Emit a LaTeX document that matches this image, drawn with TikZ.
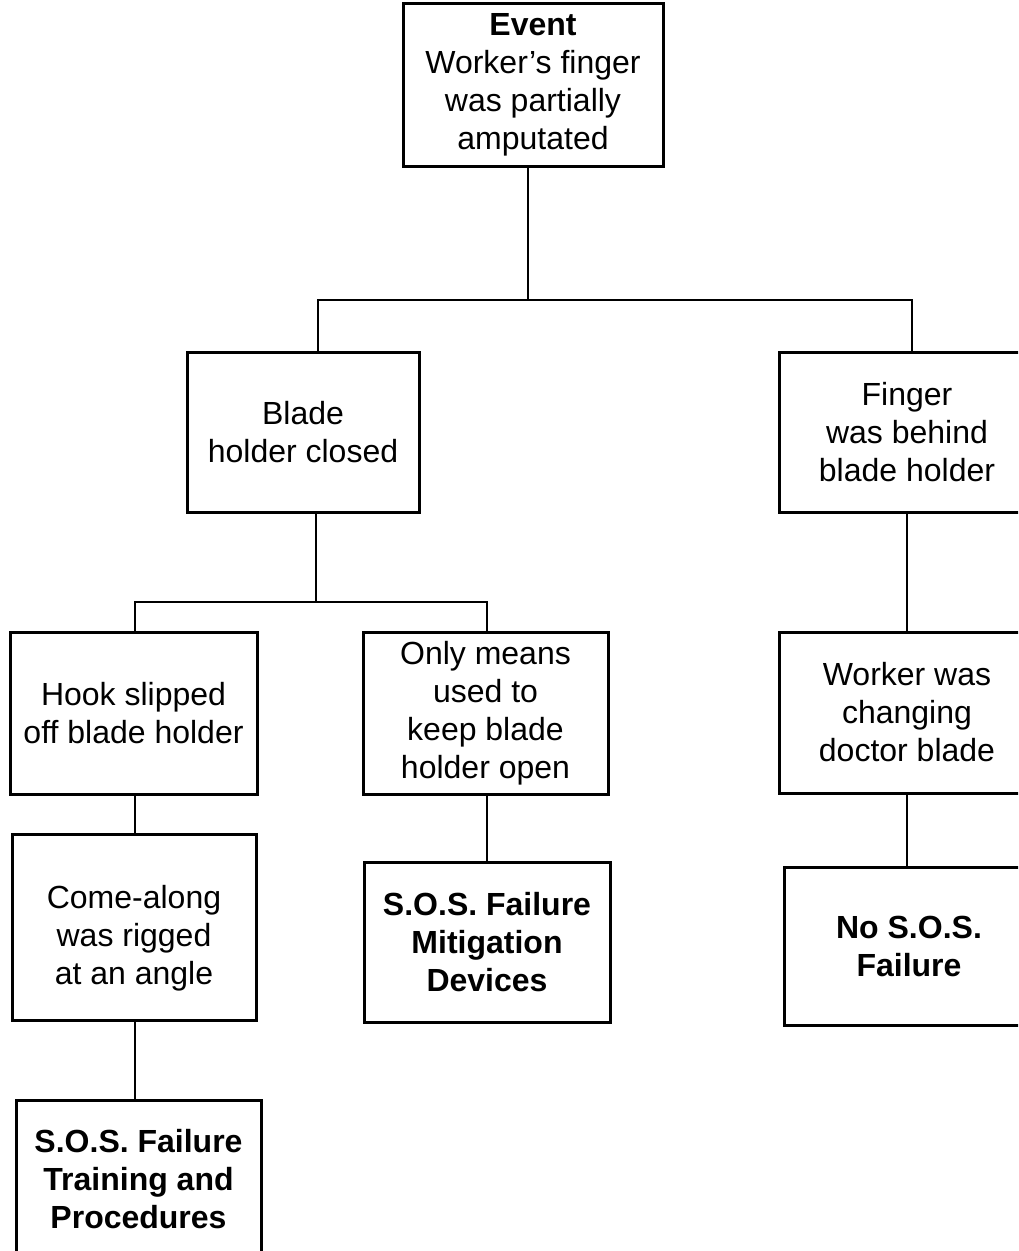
\documentclass[tikz,border=0pt]{standalone}
\usepackage{fontspec}
\setmainfont{Liberation Sans}
\begin{document}
\begin{tikzpicture}[x=1pt,y=-1pt,
  box/.style={draw=black,line width=3pt,fill=white,align=center,inner sep=0pt,
    font=\fontsize{32}{38}\selectfont},
  txt/.style={align=center,inner sep=0pt,font=\fontsize{32}{38}\selectfont},
  link/.style={draw=black,line width=2.6pt}]
\clip (0,0) rectangle (1018,1251);
\fill[white] (0,0) rectangle (1018,1251);
% boxes (x-range, y-range)
\node[box,minimum width=260,minimum height=163] (event) at (533,84.5)
  {\textbf{Event}\\Worker’s finger\\was partially\\amputated};
\node[box,minimum width=232,minimum height=160] (blade) at (303,432)
  {Blade\\holder closed};
\node[box,minimum width=256,minimum height=160] (finger) at (907,432)
  {Finger\\was behind\\blade holder};
\node[box,minimum width=247,minimum height=162] (hook) at (133.5,713)
  {Hook slipped\\off blade holder};
\node[box,minimum width=245,minimum height=162] (only) at (485.5,713)
  {Only means\\used to\\keep blade\\holder open};
\node[box,minimum width=256,minimum height=161] (worker) at (907,712.5)
  {Worker was\\changing\\doctor blade};
\node[box,minimum width=244,minimum height=186] (come) at (134,927) {};
\node[txt] (cometext) at (134,938) {Come-along\\was rigged\\at an angle};
\node[box,minimum width=246,minimum height=160] (mitig) at (487,942)
  {\textbf{S.O.S. Failure}\\\textbf{Mitigation}\\\textbf{Devices}};
\node[box,minimum width=250,minimum height=158] (nosos) at (909,946)
  {\textbf{No S.O.S.}\\\textbf{Failure}};
\node[box,minimum width=245,minimum height=158] (train) at (138.5,1179)
  {\textbf{S.O.S. Failure}\\\textbf{Training and}\\\textbf{Procedures}};
% junction points
\coordinate (j1) at (528,300);
\coordinate (j1l) at (318,300);
\coordinate (j1r) at (912,300);
\coordinate (j2) at (316,602);
\coordinate (j2l) at (135,602);
\coordinate (j2r) at (487,602);
% connectors
\draw[link] (event.south -| j1) -- (j1);
\draw[link] (blade.north -| j1l) |- (j1r) -- (finger.north -| j1r);
\draw[link] (blade.south -| j2) -- (j2);
\draw[link] (hook.north -| j2l) |- (j2r) -- (only.north -| j2r);
\draw[link] (hook.south -| j2l) -- (come.north -| j2l);
\draw[link] (only.south -| j2r) -- (mitig.north -| j2r);
\draw[link] (come.south -| j2l) -- (train.north -| j2l);
\draw[link] (finger.south) -- (worker.north);
\draw[link] (worker.south) -- (nosos.north -| worker.south);
\end{tikzpicture}
\end{document}
